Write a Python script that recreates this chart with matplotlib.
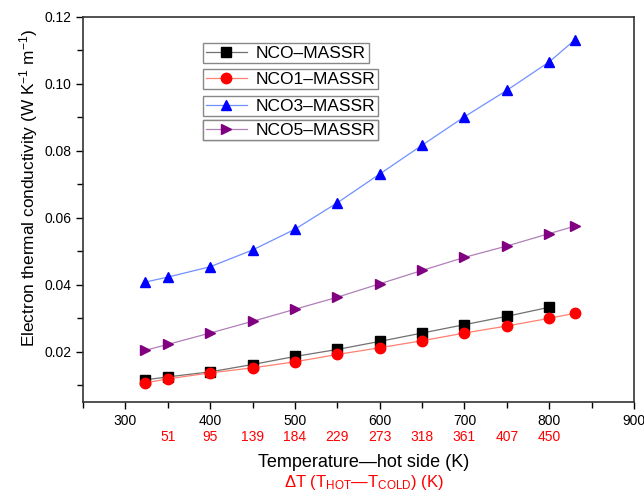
import numpy as np
import matplotlib
matplotlib.use('Agg')
import matplotlib.pyplot as plt
from matplotlib.ticker import MultipleLocator

plt.rcParams['font.family'] = ['Liberation Sans', 'DejaVu Sans']
plt.rcParams['mathtext.fontset'] = 'custom'
plt.rcParams['mathtext.rm'] = 'Liberation Sans'
plt.rcParams['mathtext.it'] = 'Liberation Sans:italic'

# data
temp = [323, 350, 400, 450, 500, 550, 600, 650, 700, 750, 800, 830]
nco = [0.0116, 0.0125, 0.0140, 0.0162, 0.0186, 0.0207, 0.0231, 0.0256, 0.0281, 0.0306, 0.0333]
nco1 = [0.0107, 0.0119, 0.0137, 0.0152, 0.0170, 0.0192, 0.0212, 0.0233, 0.0256, 0.0277, 0.0300, 0.0315]
nco3 = [0.0408, 0.0423, 0.0454, 0.0504, 0.0566, 0.0645, 0.0731, 0.0817, 0.0902, 0.0981, 0.1066, 0.1131]
nco5 = [0.0204, 0.0222, 0.0256, 0.0291, 0.0327, 0.0363, 0.0403, 0.0443, 0.0482, 0.0516, 0.0553, 0.0575]

dT_pos = [350, 400, 450, 500, 550, 600, 650, 700, 750, 800]
dT_labels = ['51', '95', '139', '184', '229', '273', '318', '361', '407', '450']

fig = plt.figure(figsize=(6.44, 4.94), dpi=100)
ax = fig.add_axes([83/644, 1-402/494, (634-83)/644, (402-17)/494])

series = [
    (temp[:11], nco, 's', 'black', '#707070', 'NCO\u2013MASSR'),
    (temp, nco1, 'o', 'red', '#ff8070', 'NCO1\u2013MASSR'),
    (temp, nco3, '^', 'blue', '#7090ff', 'NCO3\u2013MASSR'),
    (temp, nco5, '>', 'purple', '#b080b8', 'NCO5\u2013MASSR'),
]

handles = []
for x, y, m, mc, lc, lab in series:
    h, = ax.plot(x, y, color=lc, lw=0.9, marker=m, ms=7.5, mfc=mc, mec=mc, label=lab)
    handles.append(h)

ax.set_xlim(250, 900)
ax.set_ylim(0.005, 0.12)
ax.xaxis.set_major_locator(MultipleLocator(100))
ax.xaxis.set_minor_locator(MultipleLocator(50))
ax.yaxis.set_major_locator(MultipleLocator(0.02))
ax.yaxis.set_minor_locator(MultipleLocator(0.01))
ax.yaxis.set_major_formatter(matplotlib.ticker.FormatStrFormatter('%.2f'))
ax.tick_params(which='both', direction='out', top=False, right=False, labelsize=10, width=1)
ax.tick_params(which='major', length=5)
ax.tick_params(which='minor', length=4)
for s in ax.spines.values():
    s.set_linewidth(1.2)
    s.set_color('#333333')

# secondary delta T numbers in red
trans = matplotlib.transforms.blended_transform_factory(ax.transData, ax.transAxes)
for xp, t in zip(dT_pos, dT_labels):
    ax.text(xp, -0.091, t, transform=trans, color='red', fontsize=10, ha='center', va='center')

ax.text(0.51, -0.158, 'Temperature\u2014hot side (K)', transform=ax.transAxes,
        fontsize=13, ha='center', va='center')
ax.text(0.51, -0.21, '$\\Delta$T (T$_{\\mathrm{HOT}}$\u2014T$_{\\mathrm{COLD}}$) (K)',
        transform=ax.transAxes, fontsize=12, color='red', ha='center', va='center')

fig.text(29/644, 1-188/494, r'Electron thermal conductivity (W K$^{-1}$ m$^{-1}$)',
         rotation=90, fontsize=12.4, ha='center', va='center')

# separate legend boxes, one per series
tops = [43, 69, 96, 120]
for h, top in zip(handles, tops):
    leg = ax.legend([h], [h.get_label()], loc='upper left',
                    bbox_to_anchor=(203/644, 1-top/494), bbox_transform=fig.transFigure,
                    fontsize=12.5, numpoints=1, handlelength=2.4, fancybox=False,
                    framealpha=1, edgecolor='#888888', borderpad=0.15,
                    borderaxespad=0, handletextpad=0.5)
    leg.get_frame().set_linewidth(1.0)
    ax.add_artist(leg)

fig.savefig('out.png', dpi=100)
